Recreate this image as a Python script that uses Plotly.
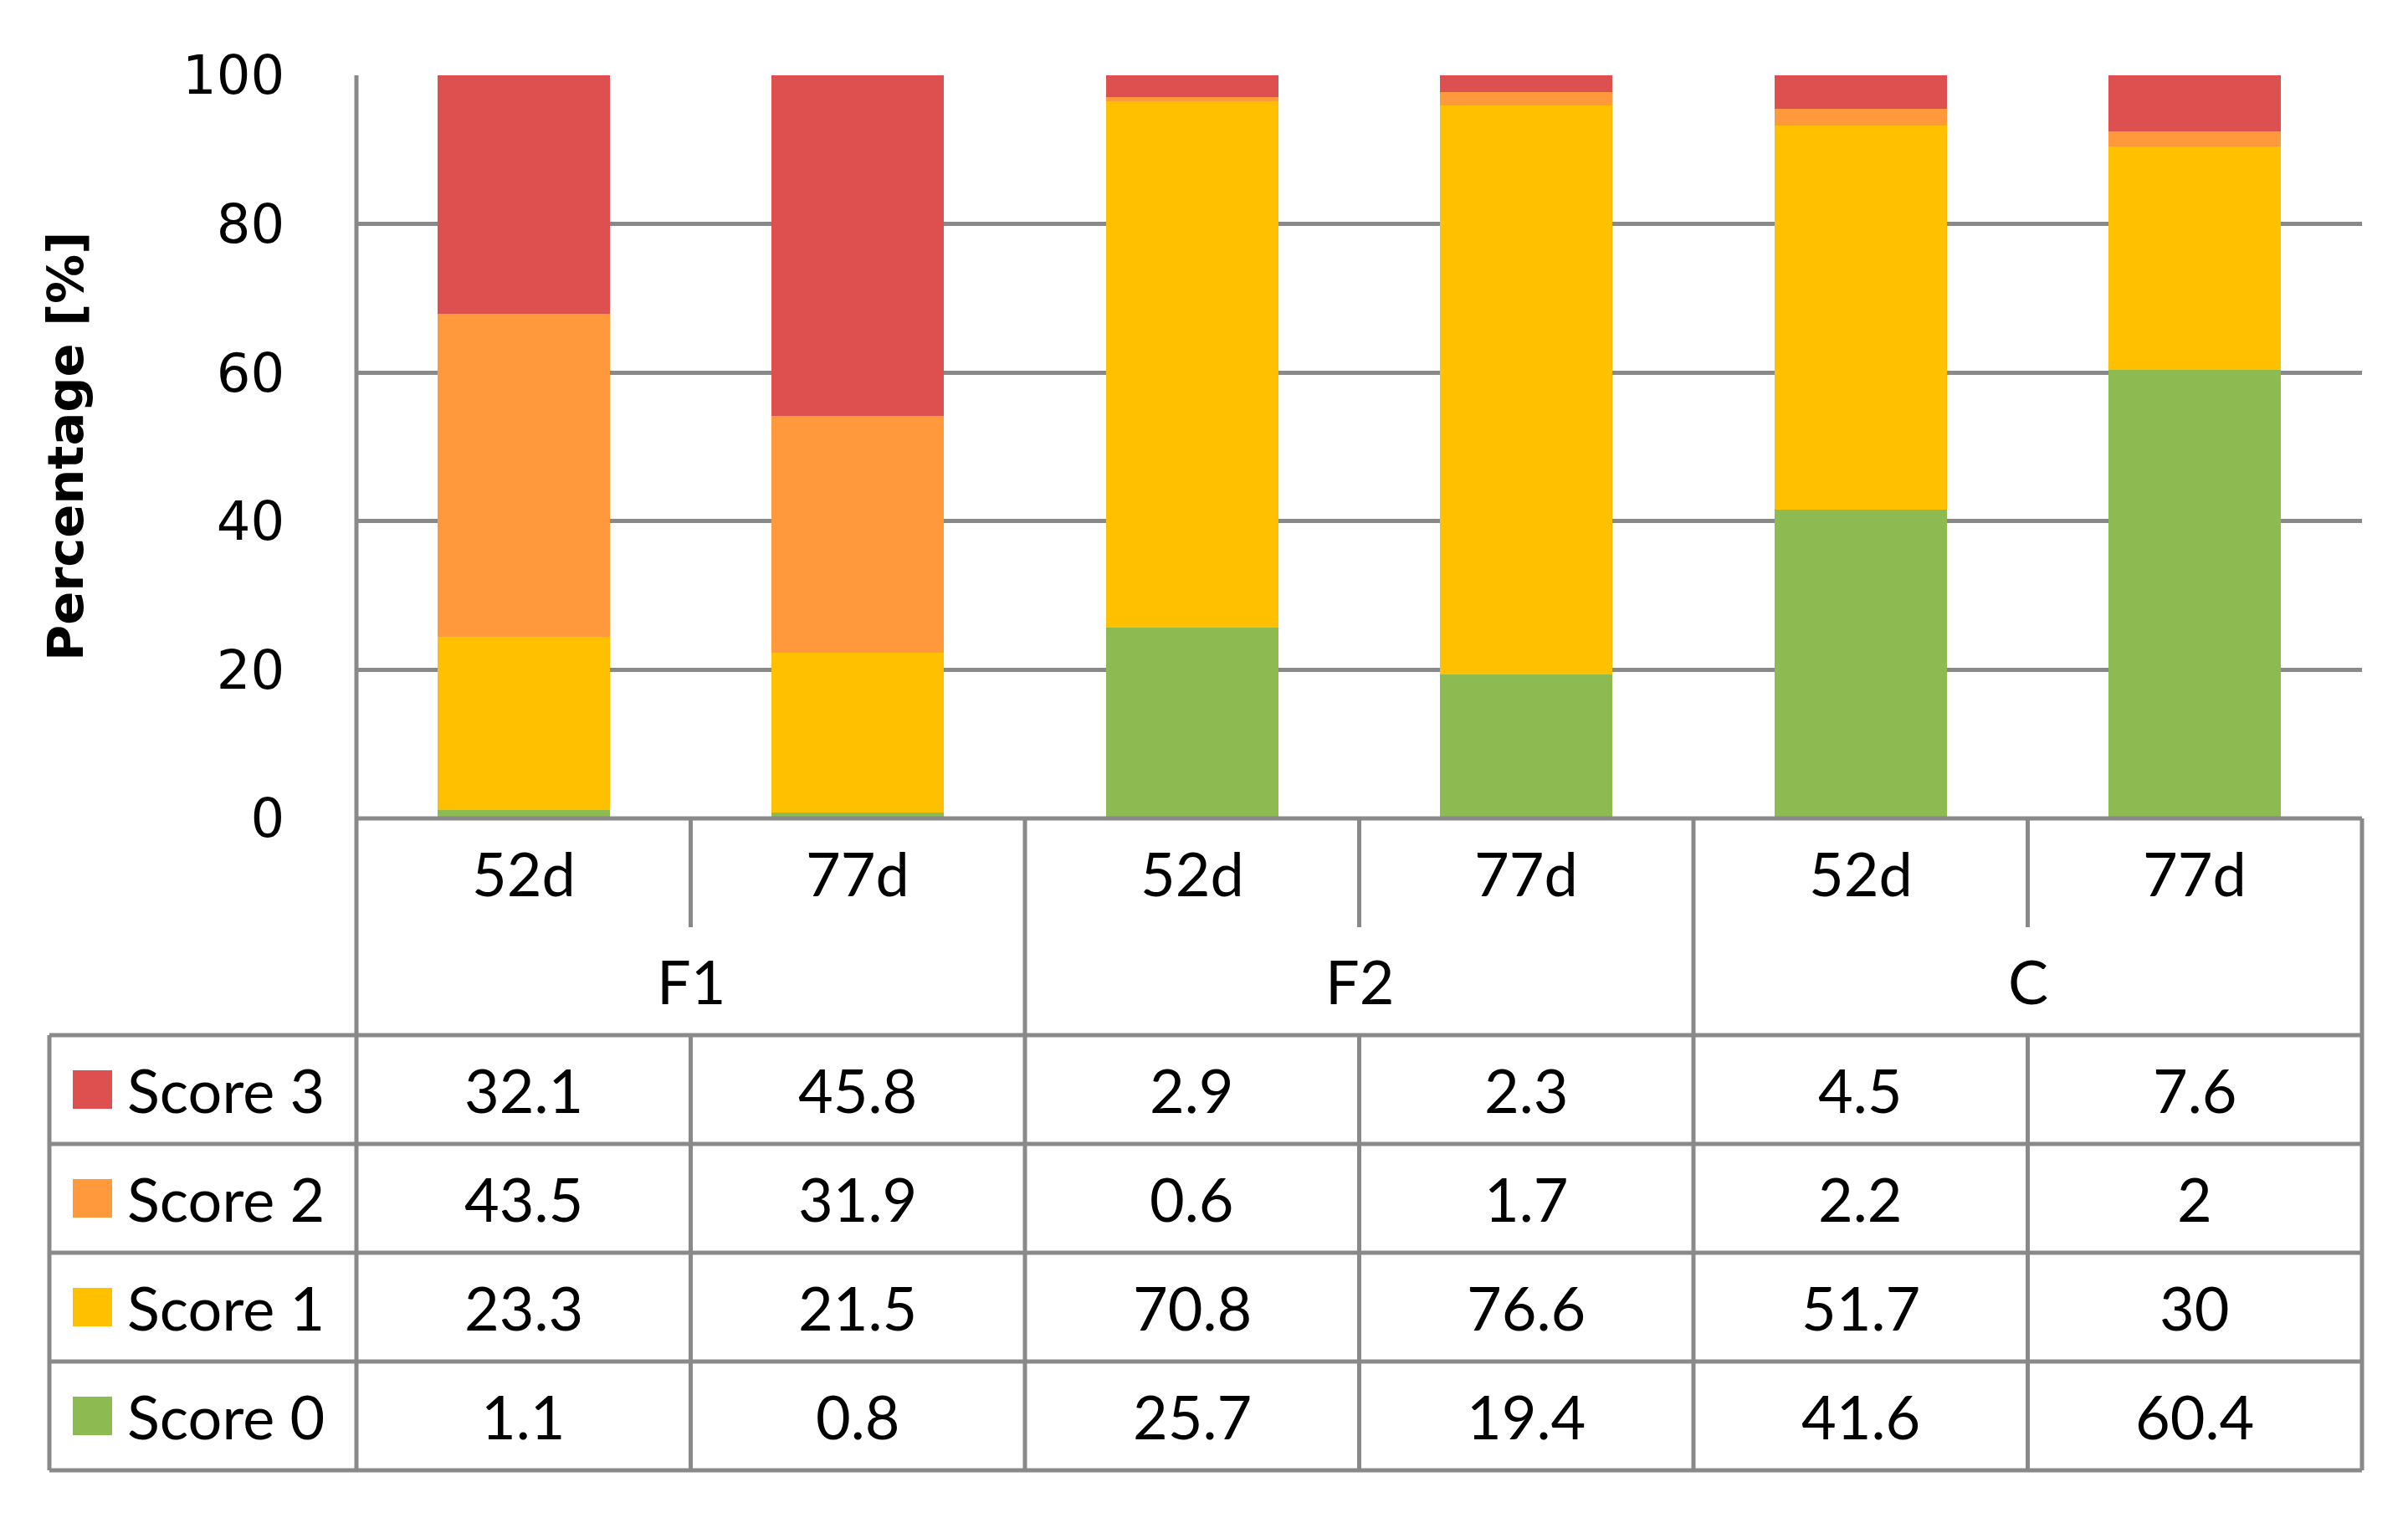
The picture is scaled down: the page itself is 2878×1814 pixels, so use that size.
import plotly.graph_objects as go

# ---------------- data ----------------
groups = ["F1", "F2", "C"]
days = ["52d", "77d", "52d", "77d", "52d", "77d"]
score3 = [32.1, 45.8, 2.9, 2.3, 4.5, 7.6]
score2 = [43.5, 31.9, 0.6, 1.7, 2.2, 2]
score1 = [23.3, 21.5, 70.8, 76.6, 51.7, 30]
score0 = [1.1, 0.8, 25.7, 19.4, 41.6, 60.4]
series_names = ["Score 3", "Score 2", "Score 1", "Score 0"]
series_values = [score3, score2, score1, score0]
colors = ["#DE5050", "#FF993C", "#FFC000", "#8EBB51"]
y_ticks = [0, 20, 40, 60, 80, 100]

# ---------------- layout geometry (page pixels; body has 8px margin) ----------------
OFF = 8
W, H = 2878 - OFF, 1814 - OFF
L, R, T, B = 426 - OFF, 2823 - OFF, 90 - OFF, 978 - OFF
GRID = "#898989"
LW = 5
TABLE_LEFT = 59 - OFF
SUB_DIV_BOTTOM = 1108 - OFF
row_lines = [p - OFF for p in [1237, 1367, 1497, 1627, 1757]]
TEXT_FONT = "Lato"
TXT_SIZE = 72

n = len(days)
idx = list(range(n))


def px(xp):
    return (xp - L) / (R - L)


def py(yp):
    return (B - yp) / (B - T)


fig = go.Figure()
# stacked bars, bottom to top
for name, vals, col in reversed(list(zip(series_names, series_values, colors))):
    fig.add_trace(go.Bar(x=idx, y=vals, name=name, marker_color=col,
                         marker_line_width=0, width=0.515, showlegend=False,
                         hoverinfo="skip"))

shapes = []


def hline(y_px, x0_paper, x1_paper):
    shapes.append(dict(type="line", xref="paper", yref="paper",
                       x0=x0_paper, x1=x1_paper, y0=py(y_px), y1=py(y_px),
                       line=dict(color=GRID, width=LW)))


def vline(x_paper, y0_px, y1_px):
    shapes.append(dict(type="line", xref="paper", yref="paper",
                       x0=x_paper, x1=x_paper, y0=py(y0_px), y1=py(y1_px),
                       line=dict(color=GRID, width=LW)))


# x-axis line / category table top
hline(B, 0, 1)
# data table horizontal lines
for yr in row_lines:
    hline(yr, px(TABLE_LEFT), 1)
# left edges
vline(px(TABLE_LEFT), row_lines[0], row_lines[-1])
vline(0, T, row_lines[-1])
# column dividers
for k in range(1, n + 1):
    if k % 2 == 0:
        vline(k / n, B, row_lines[-1])
    else:
        vline(k / n, B, SUB_DIV_BOTTOM)
        vline(k / n, row_lines[0], row_lines[-1])

annotations = []
# day labels
for i, d in enumerate(days):
    annotations.append(dict(x=i, xref="x", y=py(1043 - OFF), yref="paper", text=d,
                            showarrow=False, xanchor="center", yanchor="middle",
                            font=dict(family=TEXT_FONT, size=TXT_SIZE, color="black")))
# group labels
for g, name in enumerate(groups):
    annotations.append(dict(x=2 * g + 0.5, xref="x", y=py(1172 - OFF), yref="paper", text=name,
                            showarrow=False, xanchor="center", yanchor="middle",
                            font=dict(family=TEXT_FONT, size=TXT_SIZE, color="black")))
# data table
for r, (name, vals, col) in enumerate(zip(series_names, series_values, colors)):
    yc = (row_lines[r] + row_lines[r + 1]) / 2
    for i, v in enumerate(vals):
        annotations.append(dict(x=i, xref="x", y=py(yc), yref="paper", text=f"{v:g}",
                                showarrow=False, xanchor="center", yanchor="middle",
                                font=dict(family=TEXT_FONT, size=TXT_SIZE, color="black")))
    # legend key
    shapes.append(dict(type="rect", xref="paper", yref="paper",
                       x0=px(87 - OFF), x1=px(134 - OFF), y0=py(yc - 23), y1=py(yc + 23),
                       fillcolor=col, line=dict(width=0)))
    annotations.append(dict(x=px(150 - OFF), xref="paper", y=py(yc), yref="paper", text=name,
                            showarrow=False, xanchor="left", yanchor="middle",
                            font=dict(family=TEXT_FONT, size=TXT_SIZE, color="black")))

# y-axis title
annotations.append(dict(x=px(78 - OFF), xref="paper", y=py((T + B) / 2), yref="paper",
                        text="<b>Percentage [%]</b>", textangle=-90, showarrow=False,
                        xanchor="center", yanchor="middle",
                        font=dict(family="DejaVu Sans", size=59, color="black")))

fig.update_layout(
    width=W, height=H,
    margin=dict(l=L, r=W - R, t=T, b=H - B, pad=0),
    barmode="stack",
    plot_bgcolor="white", paper_bgcolor="white",
    shapes=shapes, annotations=annotations,
    xaxis=dict(range=[-0.5, n - 0.5], showgrid=False, zeroline=False,
               showline=False, showticklabels=False, fixedrange=True),
    yaxis=dict(range=[0, 100], tickvals=y_ticks, showgrid=True, gridcolor=GRID,
               gridwidth=LW, zeroline=False, showline=False, ticks="outside",
               ticklen=0, ticklabelstandoff=72,
               tickfont=dict(family="DejaVu Sans", size=64, color="black")),
)

fig.write_html("out.html")
